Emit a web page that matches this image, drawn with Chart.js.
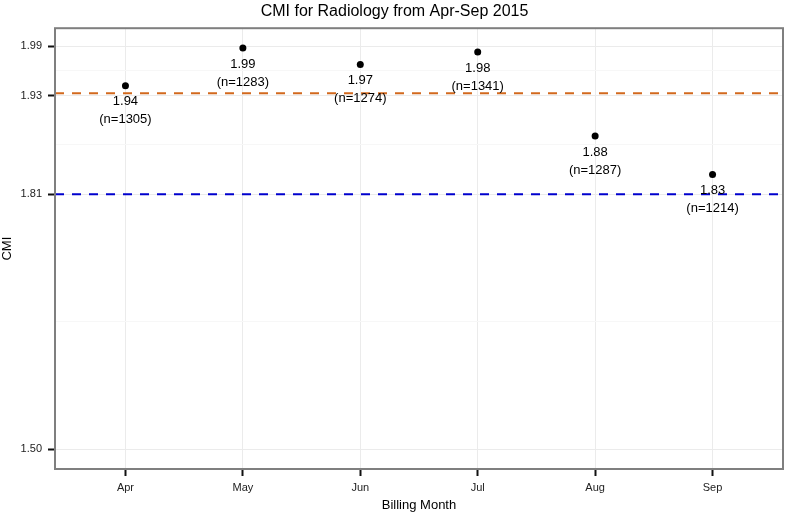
<!DOCTYPE html>
<html>
<head>
<meta charset="utf-8">
<script src="https://cdn.jsdelivr.net/npm/chart.js@4.4.1/dist/chart.umd.min.js"></script>
<style>
  body { margin: 0; background: #fff; }
  canvas { display: block; }
</style>
</head>
<body>
<canvas id="cmiChart" width="787" height="516"></canvas>
<script>
const months = ["Apr", "May", "Jun", "Jul", "Aug", "Sep"];
const cmiValues = [1.942, 1.988, 1.968, 1.983, 1.881, 1.834];
const caseCounts = [1305, 1283, 1274, 1341, 1287, 1214];
const yTicks = [1.50, 1.81, 1.93, 1.99];
const orangeLine = 1.933;
const blueLine = 1.81;

// minor grid lines sit halfway between the major ticks (ggplot style)
const yMinor = [];
for (let i = 0; i < yTicks.length - 1; i++) {
    yMinor.push((yTicks[i] + yTicks[i + 1]) / 2);
}
const isMajor = v => yTicks.some(t => Math.abs(t - v) < 1e-6);

const FONT = "'Liberation Sans', Arial, sans-serif";

const points = months.map((m, i) => ({ x: i, y: cmiValues[i] }));
const xMin = -0.6;
const xMax = months.length - 1 + 0.6;

// frame round the plot panel
const panelBorder = {
    id: 'panelBorder',
    afterDraw(chart) {
        const { ctx, chartArea } = chart;
        ctx.save();
        ctx.strokeStyle = '#7f7f7f';
        ctx.lineWidth = 2;
        ctx.strokeRect(chartArea.left, chartArea.top, chartArea.right - chartArea.left, chartArea.bottom - chartArea.top);
        ctx.restore();
    }
};

// value and count labels under each point
const pointLabels = {
    id: 'pointLabels',
    afterDatasetsDraw(chart) {
        const ctx = chart.ctx;
        const meta = chart.getDatasetMeta(0);
        ctx.save();
        ctx.font = '13px ' + FONT;
        ctx.fillStyle = '#000';
        ctx.textAlign = 'center';
        ctx.textBaseline = 'middle';
        meta.data.forEach((pt, i) => {
            ctx.fillText(cmiValues[i].toFixed(2), pt.x, pt.y + 16);
            ctx.fillText('(n=' + caseCounts[i] + ')', pt.x, pt.y + 34);
        });
        ctx.restore();
    }
};

new Chart(document.getElementById('cmiChart'), {
    type: 'scatter',
    data: {
        datasets: [
            {
                label: 'CMI',
                data: points,
                backgroundColor: '#000',
                borderWidth: 0,
                pointRadius: 3.5,
                order: 0
            },
            {
                type: 'line',
                label: 'orange',
                data: [{ x: xMin, y: orangeLine }, { x: xMax, y: orangeLine }],
                borderColor: '#d2691e',
                borderWidth: 2,
                borderDash: [9, 8],
                pointRadius: 0,
                order: 1
            },
            {
                type: 'line',
                label: 'blue',
                data: [{ x: xMin, y: blueLine }, { x: xMax, y: blueLine }],
                borderColor: '#0000cd',
                borderWidth: 2,
                borderDash: [9, 8],
                pointRadius: 0,
                order: 1
            }
        ]
    },
    options: {
        responsive: false,
        animation: false,
        layout: { padding: { left: 0, right: -2, top: 0, bottom: 0 } },
        plugins: {
            legend: { display: false },
            tooltip: { enabled: false },
            title: {
                display: true,
                text: 'CMI for Radiology from Apr-Sep 2015',
                color: '#000',
                font: { family: FONT, size: 16, weight: 'normal' },
                padding: { top: 2, bottom: 7 }
            }
        },
        scales: {
            x: {
                type: 'linear',
                min: xMin,
                max: xMax,
                afterBuildTicks: scale => {
                    scale.ticks = months.map((m, i) => ({ value: i }));
                },
                afterFit: scale => {
                    scale.height = 47;
                },
                ticks: {
                    callback: v => months[v],
                    color: '#222',
                    font: { family: FONT, size: 11 },
                    padding: 5,
                    maxRotation: 0
                },
                grid: {
                    color: '#ebebeb',
                    lineWidth: 1,
                    tickColor: '#111',
                    tickWidth: 2,
                    tickLength: 7
                },
                border: { display: false },
                title: {
                    display: true,
                    text: 'Billing Month',
                    color: '#000',
                    font: { family: FONT, size: 13 },
                    padding: { top: 0, bottom: 3 }
                }
            },
            y: {
                type: 'linear',
                min: 1.476,
                max: 2.012,
                afterBuildTicks: scale => {
                    scale.ticks = yTicks.concat(yMinor).sort((a, b) => a - b).map(v => ({ value: v }));
                },
                afterFit: scale => { scale.width = 55; },
                ticks: {
                    callback: v => isMajor(v) ? v.toFixed(2) : '',
                    color: '#222',
                    font: { family: FONT, size: 11 },
                    padding: 6
                },
                grid: {
                    color: c => isMajor(c.tick.value) ? '#ebebeb' : '#f7f7f7',
                    lineWidth: 1,
                    tickColor: c => isMajor(c.tick.value) ? '#111' : 'rgba(0,0,0,0)',
                    tickWidth: 2,
                    tickLength: 7
                },
                border: { display: false },
                title: {
                    display: true,
                    text: 'CMI',
                    color: '#000',
                    font: { family: FONT, size: 13 },
                    padding: { top: 0, bottom: 0 }
                }
            }
        }
    },
    plugins: [panelBorder, pointLabels]
});
</script>
</body>
</html>
